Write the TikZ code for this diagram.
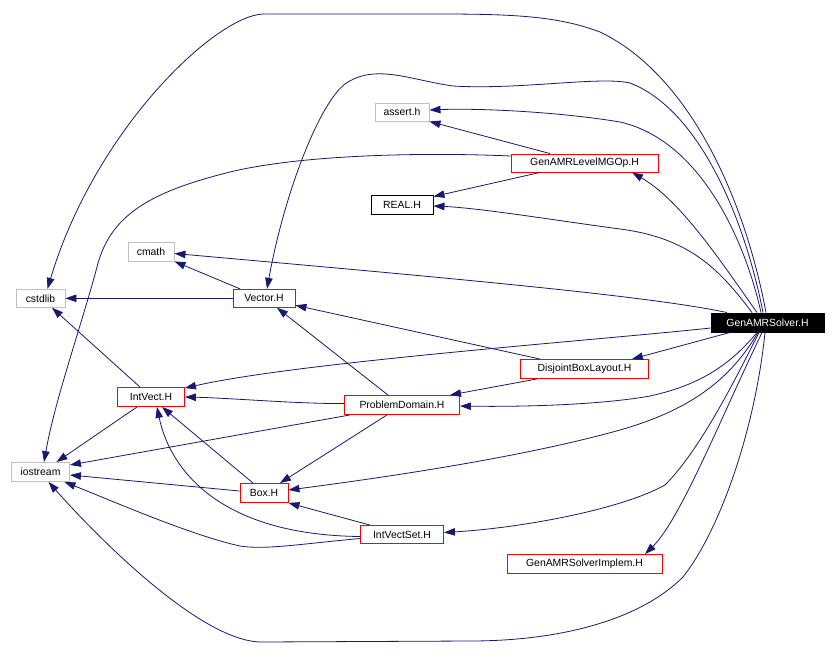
\documentclass[tikz,border=0pt]{standalone}
\usepackage{fontspec}
\setmainfont{Liberation Sans}
\usetikzlibrary{arrows.meta}
\definecolor{edgeblue}{RGB}{25,25,112}
\definecolor{boxgray}{RGB}{191,191,191}
\begin{document}
\begin{tikzpicture}[x=1pt,y=-1pt,
  nbox/.style={draw, line width=0.9pt, inner sep=0pt, fill=white, text=black,
    font=\fontsize{10.4}{12}\selectfont},
  graybox/.style={nbox, draw=boxgray},
  redbox/.style={nbox, draw=red},
  blackbox/.style={nbox, draw=black},
  rootbox/.style={nbox, draw=black, fill=black, text=white},
  edge/.style={draw=edgeblue, line width=0.8pt, -{Triangle[length=11pt,width=7.5pt]}, edgeblue}]
\useasboundingbox (0,0) rectangle (837,656);
\fill[white] (0,0) rectangle (837,656);

\node[rootbox, minimum width=113pt, minimum height=19pt] (gs) at (767.5,322.5) {GenAMRSolver.H};
\node[graybox, minimum width=54pt, minimum height=18pt] (assert) at (402,112) {assert.h};
\node[redbox, minimum width=147pt, minimum height=18pt] (mgop) at (584.5,163) {GenAMRLevelMGOp.H};
\node[blackbox, minimum width=62pt, minimum height=19pt] (real) at (402,204.5) {REAL.H};
\node[graybox, minimum width=46pt, minimum height=19pt] (cmath) at (151,251.5) {cmath};
\node[graybox, minimum width=49pt, minimum height=18pt] (cstdlib) at (40.5,298.3) {cstdlib};
\node[redbox, minimum width=62pt, minimum height=18pt] (vector) at (264,298.3) {Vector.H};
\node[redbox, minimum width=128pt, minimum height=19pt] (dbl) at (584.5,369) {DisjointBoxLayout.H};
\node[redbox, minimum width=67pt, minimum height=19pt] (intvect) at (151,397) {IntVect.H};
\node[redbox, minimum width=115pt, minimum height=19pt] (pd) at (402,405) {ProblemDomain.H};
\node[graybox, minimum width=58pt, minimum height=19pt] (iostream) at (40.5,472) {iostream};
\node[redbox, minimum width=48pt, minimum height=19pt] (box) at (264,493) {Box.H};
\node[redbox, minimum width=83pt, minimum height=18pt] (ivs) at (402,534.5) {IntVectSet.H};
\node[redbox, minimum width=155pt, minimum height=19pt] (implem) at (584.5,564) {GenAMRSolverImplem.H};

% GenAMRSolver.H edges
\path[edge] ([xshift=-1.5pt]gs.north) .. controls (745,200) and (690,75) .. (600,32)
  .. controls (560,17) and (520,14) .. (440,14) -- (263,14)
  .. controls (215,16) and (95,130) .. ([xshift=7pt]cstdlib.north);
\path[edge] ([xshift=-4.5pt]gs.north) .. controls (745,220) and (700,110) .. (630,83)
  .. controls (600,76) and (520,90) .. (453,86)
  .. controls (410,80) and (375,63) .. (345,84)
  .. controls (320,103) and (285,190) .. ([xshift=3pt]vector.north);
\path[edge] ([xshift=-6.5pt]gs.north) .. controls (745,240) and (700,140) .. (620,122)
  .. controls (560,112) and (480,108) .. ([yshift=2pt]assert.east);
\path[edge] ([xshift=-10.5pt]gs.north) .. controls (720,260) and (680,200) .. ([xshift=47.5pt]mgop.south);
\path[edge] ([xshift=-15.5pt]gs.north) .. controls (720,270) and (690,238) .. (620,229)
  .. controls (560,221) and (480,208) .. ([yshift=-1.5pt]real.east);
\path[edge] ([xshift=-40.5pt]gs.north) .. controls (650,296) and (450,278) .. ([yshift=-2pt]cmath.east);
\path[edge] ([yshift=-5.5pt]gs.west) .. controls (600,340) and (300,362) .. ([yshift=-1pt]intvect.north east);
\path[edge] ([xshift=-37.5pt]gs.south) -- ([xshift=47.5pt]dbl.north);
\path[edge] ([xshift=-10.5pt]gs.south) .. controls (730,365) and (700,385) .. (650,396)
  .. controls (600,405) and (520,407) .. ([yshift=-1pt]pd.east);
\path[edge] ([xshift=-9.5pt]gs.south) .. controls (730,380) and (690,410) .. (620,430)
  .. controls (520,458) and (380,478) .. ([yshift=3pt]box.east);
\path[edge] ([xshift=-8.5pt]gs.south) .. controls (735,380) and (700,450) .. (665,485)
  .. controls (620,510) and (520,528) .. ([yshift=2pt]ivs.east);
\path[edge] ([xshift=-5.5pt]gs.south) .. controls (720,420) and (680,520) .. ([xshift=60.5pt]implem.north);
\path[edge] ([xshift=-2.5pt]gs.south) .. controls (755,430) and (720,530) .. (683,577)
  .. controls (640,620) and (560,641) .. (470,641) -- (260,642)
  .. controls (200,640) and (100,540) .. ([xshift=8pt]iostream.south);

% GenAMRLevelMGOp.H edges
\path[edge] ([yshift=7pt]mgop.west) .. controls (420,152) and (300,155) .. (230,172)
  .. controls (150,192) and (110,215) .. (97,267)
  .. controls (80,330) and (55,400) .. ([xshift=3.5pt]iostream.north);
\path[edge] ([xshift=-34.5pt]mgop.north) -- (assert.south east);
\path[edge] ([xshift=-44.5pt]mgop.south) -- ([yshift=-2pt]real.north east);

% Vector.H edges
\path[edge] ([xshift=-24pt]vector.north) -- (cmath.south east);
\path[edge] (vector.west) -- (cstdlib.east);

% DisjointBoxLayout.H edges
\path[edge] ([xshift=-44.5pt]dbl.north) -- ([yshift=-7pt]vector.east);
\path[edge] ([xshift=-47.5pt]dbl.south) -- ([xshift=48pt]pd.north);

% IntVect.H edges
\path[edge] ([xshift=-11pt]intvect.north) -- ([xshift=11.5pt]cstdlib.south);
\path[edge] ([xshift=-14pt]intvect.south) -- ([xshift=16pt]iostream.north);

% ProblemDomain.H edges
\path[edge] ([xshift=-14pt]pd.north) -- ([xshift=13pt]vector.south);
\path[edge] ([yshift=1.5pt]pd.west) .. controls (300,404) and (230,398) .. (intvect.east);
\path[edge] ([xshift=-52pt]pd.south) -- ([yshift=7pt]iostream.east);
\path[edge] ([xshift=-15pt]pd.south) -- ([xshift=16pt]box.north);

% Box.H edges
\path[edge] ([xshift=-11pt]box.north) -- ([xshift=11pt]intvect.south);
\path[edge] ([yshift=2pt]box.west) -- ([yshift=-3pt]iostream.east);

% IntVectSet.H edges
\path[edge] ([yshift=-2pt]ivs.west) .. controls (220,535) and (170,470) .. ([xshift=6pt]intvect.south);
\path[edge] ([xshift=-32pt]ivs.north) -- (box.south east);
\path[edge] ([yshift=-4pt]ivs.west) .. controls (300,544) and (265,550) .. (240,546)
  .. controls (190,535) and (110,500) .. ([xshift=24pt]iostream.south);
\end{tikzpicture}
\end{document}
